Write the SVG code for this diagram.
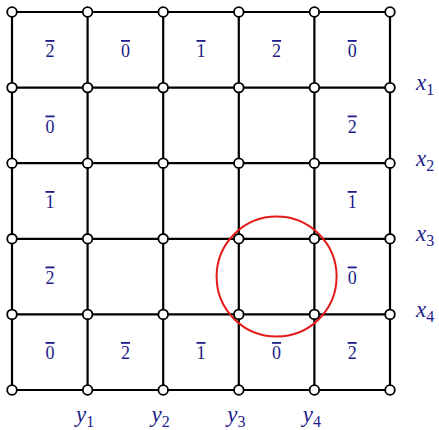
<svg xmlns="http://www.w3.org/2000/svg" width="439" height="430" viewBox="0 0 439 430">
<style>
.ln{stroke:#000;stroke-width:2.2;fill:none}
.v{fill:#fff;stroke:#000;stroke-width:1.8}
.d{font-family:"Liberation Serif",serif;font-size:18px;fill:#1c1c8a;text-anchor:middle;text-decoration:overline}
.lab{font-family:"Liberation Serif",serif;font-size:23px;fill:#1c1c8a;font-style:italic}
.sub{font-style:normal;font-size:16px}
</style>
<rect width="439" height="430" fill="#fff"/>
<g id="connectors">
<path class="ln" d="M12 12H390M12 87.6H390M12 163.2H390M12 238.8H390M12 314.4H390M12 390H390M12 12V390M87.6 12V390M163.2 12V390M238.8 12V390M314.4 12V390M390 12V390"/>
</g>
<g id="circle"><circle cx="276.6" cy="276.6" r="60" fill="none" stroke="#e31a1a" stroke-width="2"/></g>
<g id="vertices">
<g id="r0"><circle class="v" cx="12" cy="12" r="4.8"/><circle class="v" cx="87.6" cy="12" r="4.8"/><circle class="v" cx="163.2" cy="12" r="4.8"/><circle class="v" cx="238.8" cy="12" r="4.8"/><circle class="v" cx="314.4" cy="12" r="4.8"/><circle class="v" cx="390" cy="12" r="4.8"/></g>
<g id="r1"><circle class="v" cx="12" cy="87.6" r="4.8"/><circle class="v" cx="87.6" cy="87.6" r="4.8"/><circle class="v" cx="163.2" cy="87.6" r="4.8"/><circle class="v" cx="238.8" cy="87.6" r="4.8"/><circle class="v" cx="314.4" cy="87.6" r="4.8"/><circle class="v" cx="390" cy="87.6" r="4.8"/></g>
<g id="r2"><circle class="v" cx="12" cy="163.2" r="4.8"/><circle class="v" cx="87.6" cy="163.2" r="4.8"/><circle class="v" cx="163.2" cy="163.2" r="4.8"/><circle class="v" cx="238.8" cy="163.2" r="4.8"/><circle class="v" cx="314.4" cy="163.2" r="4.8"/><circle class="v" cx="390" cy="163.2" r="4.8"/></g>
<g id="r3"><circle class="v" cx="12" cy="238.8" r="4.8"/><circle class="v" cx="87.6" cy="238.8" r="4.8"/><circle class="v" cx="163.2" cy="238.8" r="4.8"/><circle class="v" cx="238.8" cy="238.8" r="4.8"/><circle class="v" cx="314.4" cy="238.8" r="4.8"/><circle class="v" cx="390" cy="238.8" r="4.8"/></g>
<g id="r4"><circle class="v" cx="12" cy="314.4" r="4.8"/><circle class="v" cx="87.6" cy="314.4" r="4.8"/><circle class="v" cx="163.2" cy="314.4" r="4.8"/><circle class="v" cx="238.8" cy="314.4" r="4.8"/><circle class="v" cx="314.4" cy="314.4" r="4.8"/><circle class="v" cx="390" cy="314.4" r="4.8"/></g>
<g id="r5"><circle class="v" cx="12" cy="390" r="4.8"/><circle class="v" cx="87.6" cy="390" r="4.8"/><circle class="v" cx="163.2" cy="390" r="4.8"/><circle class="v" cx="238.8" cy="390" r="4.8"/><circle class="v" cx="314.4" cy="390" r="4.8"/><circle class="v" cx="390" cy="390" r="4.8"/></g>
</g>
<g id="cells">
<text class="d" x="50" y="57">2</text><text class="d" x="125.5" y="57">0</text><text class="d" x="201" y="57">1</text><text class="d" x="276.6" y="57">2</text><text class="d" x="352.2" y="57">0</text>
<text class="d" x="50" y="132.5">0</text><text class="d" x="352.2" y="132.5">2</text>
<text class="d" x="50" y="208">1</text><text class="d" x="352.2" y="208">1</text>
<text class="d" x="50" y="283.5">2</text><text class="d" x="352.2" y="283.5">0</text>
<text class="d" x="50" y="359">0</text><text class="d" x="125.5" y="359">2</text><text class="d" x="201" y="359">1</text><text class="d" x="276.6" y="359">0</text><text class="d" x="352.2" y="359">2</text>
</g>
<g id="xlabels">
<text class="lab" x="416" y="90">x<tspan class="sub" dy="5">1</tspan></text>
<text class="lab" x="416" y="165.6">x<tspan class="sub" dy="5">2</tspan></text>
<text class="lab" x="416" y="241.2">x<tspan class="sub" dy="5">3</tspan></text>
<text class="lab" x="416" y="316.8">x<tspan class="sub" dy="5">4</tspan></text>
</g>
<g id="ylabels">
<text class="lab" x="76" y="422">y<tspan class="sub" dy="5">1</tspan></text>
<text class="lab" x="151.6" y="422">y<tspan class="sub" dy="5">2</tspan></text>
<text class="lab" x="227.2" y="422">y<tspan class="sub" dy="5">3</tspan></text>
<text class="lab" x="302.8" y="422">y<tspan class="sub" dy="5">4</tspan></text>
</g>
</svg>
